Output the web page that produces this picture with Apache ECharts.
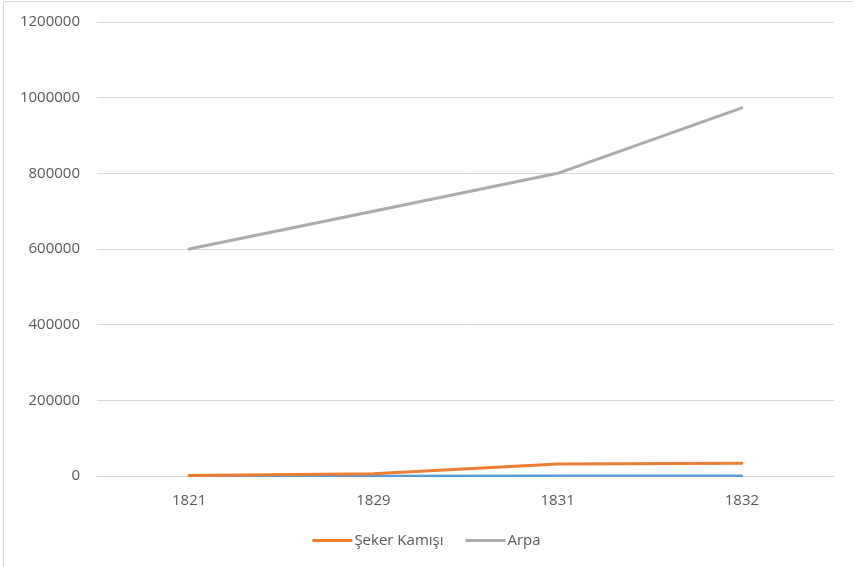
<!DOCTYPE html>
<html>
<head>
<meta charset="utf-8">
<script src="https://cdn.jsdelivr.net/npm/echarts@6/dist/echarts.min.js"></script>
<style>
  html, body { margin: 0; padding: 0; background: #fff; }
  #chart { width: 853px; height: 567px; }
</style>
</head>
<body>
<div id="chart"></div>
<script>
// Years on the category axis
const years = ['1821', '1829', '1831', '1832'];
// Production series
const seriesUnnamed = [200, 300, 400, 400];
const sekerKamisi = [1000, 6000, 31500, 33500];
const arpa = [600000, 700000, 800000, 973000];
// Value axis ticks
const yMin = 0;
const yMax = 1200000;
const yStep = 200000;

const chart = echarts.init(document.getElementById('chart'), null, { renderer: 'canvas' });
const font = '"Open Sans", sans-serif';
const textColor = '#595959';

chart.setOption({
  animation: false,
  backgroundColor: '#fff',
  textStyle: { fontFamily: font },
  graphic: [{
    type: 'rect',
    shape: { x: 3.5, y: 1.5, width: 900, height: 600 },
    style: { fill: 'none', stroke: '#d9d9d9', lineWidth: 1 },
    silent: true
  }],
  grid: { left: 97, right: 19, top: 22, bottom: 91 },
  legend: {
    data: ['Şeker Kamışı', 'Arpa'],
    bottom: 14,
    left: 'center',
    itemWidth: 40,
    itemHeight: 3,
    itemGap: 22,
    icon: 'rect',
    textStyle: { color: textColor, fontSize: 15, fontFamily: font, padding: [0, 0, 0, -3] }
  },
  xAxis: {
    type: 'category',
    data: years,
    boundaryGap: true,
    axisLine: { show: true, lineStyle: { color: '#d9d9d9', width: 1 } },
    axisTick: { show: false },
    axisLabel: { color: textColor, fontSize: 15, margin: 17, fontFamily: font },
    splitLine: { show: false }
  },
  yAxis: {
    type: 'value',
    min: yMin,
    max: yMax,
    interval: yStep,
    axisLine: { show: false },
    axisTick: { show: false },
    axisLabel: {
      color: textColor, fontSize: 15, margin: 17, fontFamily: font,
      formatter: v => String(v)
    },
    splitLine: { show: true, lineStyle: { color: '#d9d9d9', width: 1 } }
  },
  series: [
    {
      name: '',
      type: 'line',
      data: seriesUnnamed,
      symbol: 'none',
      lineStyle: { color: '#5B9BD5', width: 2.5, cap: 'round' },
      itemStyle: { color: '#5B9BD5' },
      z: 2
    },
    {
      name: 'Şeker Kamışı',
      type: 'line',
      data: sekerKamisi,
      symbol: 'none',
      lineStyle: { color: '#ED7D31', width: 3, cap: 'round', join: 'round' },
      itemStyle: { color: '#ED7D31' },
      z: 3
    },
    {
      name: 'Arpa',
      type: 'line',
      data: arpa,
      symbol: 'none',
      lineStyle: { color: '#ABABAB', width: 3, cap: 'round', join: 'round' },
      itemStyle: { color: '#ABABAB' },
      z: 4
    }
  ]
});
</script>
</body>
</html>
